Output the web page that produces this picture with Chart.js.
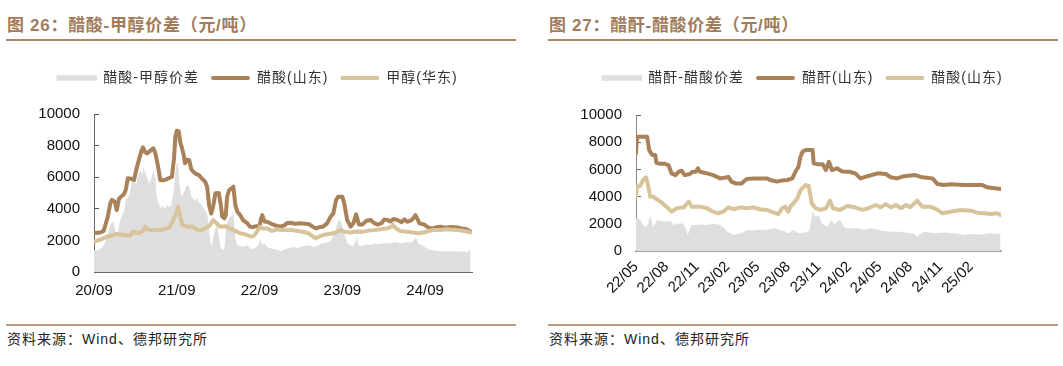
<!DOCTYPE html>
<html>
<head>
<meta charset="utf-8">
<script src="https://cdn.jsdelivr.net/npm/chart.js@4.4.1/dist/chart.umd.min.js"></script>
<style>
  html, body { margin: 0; padding: 0; background: #fff; }
  body { width: 1063px; height: 366px; position: relative; overflow: hidden; }
  .title { position: absolute; top: 11px; font: bold 17px "Liberation Sans", "Noto Sans CJK SC", sans-serif; letter-spacing: 0.7px; color: #a27c5a; white-space: nowrap; }
  .rule { position: absolute; height: 2px; background: #a98767; }
  .rule2 { position: absolute; height: 2px; background: #b89a80; }
  .source { position: absolute; top: 328px; font: 14px "Liberation Sans", "Noto Sans CJK SC", sans-serif; letter-spacing: 1px; color: #222; white-space: nowrap; }
  canvas { position: absolute; }
</style>
</head>
<body>
<div class="title" style="left:7px;">图 26：醋酸-甲醇价差（元/吨）</div>
<div class="rule" style="left:6px; width:510px; top:39px;"></div>
<div class="title" style="left:549px;">图 27：醋酐-醋酸价差（元/吨）</div>
<div class="rule" style="left:548px; width:510px; top:39px;"></div>
<canvas id="c1" width="515" height="250" style="left:0px; top:59px;"></canvas>
<canvas id="c2" width="515" height="250" style="left:545px; top:59px;"></canvas>
<div class="rule2" style="left:6px; width:510px; top:324px;"></div>
<div class="rule2" style="left:548px; width:510px; top:324px;"></div>
<div class="source" style="left:7px;">资料来源：Wind、德邦研究所</div>
<div class="source" style="left:549px;">资料来源：Wind、德邦研究所</div>
<script>
// ---------- Chart 26 (x = months since 2020/09) ----------
const leftTicks = ['20/09','21/09','22/09','23/09','24/09'];
const leftSeriesNames = ['醋酸-甲醇价差','醋酸(山东)','甲醇(华东)'];

const acidM = [0,0.9,1.4,2.0,2.4,2.6,3.0,3.3,3.6,3.9,4.3,4.6,4.9,5.4,5.8,6.2,6.5,6.9,7.1,7.4,7.7,8.1,8.6,8.9,9.1,9.4,9.6,10.0,10.4,10.9,11.3,11.6,11.8,12.0,12.3,12.5,12.7,13.0,13.2,13.5,13.8,14.1,14.4,14.8,15.2,15.7,16.1,16.4,16.7,17.0,17.3,17.6,17.9,18.1,18.4,18.6,18.9,19.1,19.3,19.6,20.0,20.2,20.5,20.8,21.2,21.6,22.2,22.6,23.1,23.5,24.0,24.2,24.4,24.7,25.1,25.7,26.3,27.0,27.6,28.0,28.4,29.2,29.9,30.6,31.1,31.6,32.2,32.8,33.2,33.8,34.3,34.7,35.1,35.4,36.0,36.3,36.7,37.2,37.6,38.0,38.4,38.9,39.5,40.1,40.6,41.1,41.7,42.1,42.5,43.0,43.4,44.0,44.6,45.0,45.4,45.9,46.3,46.6,46.9,47.2,47.9,48.5,49.1,49.6,50.2,50.9,51.7,52.5,53.3,54.0,54.6];
const acidV = [2470,2500,2600,3500,4400,4560,4450,3920,4600,4770,4900,5190,5930,5900,5820,6600,7090,7700,7890,7600,7510,7650,7830,7500,7090,6400,5820,5800,5850,5950,6030,7200,8560,8940,8900,8200,7930,7400,6880,7100,7090,6500,6350,6200,6140,5900,5720,5400,4200,3700,4200,4980,5000,4980,4200,3500,3400,3600,4770,5190,5300,5400,4200,3800,3600,3290,3100,2870,2850,2900,2900,3350,3600,3200,3180,3050,2950,2870,2950,3100,3120,3050,3080,3050,3040,2900,2760,2850,2870,3080,3500,3710,4560,4770,4770,4300,3300,2870,3080,3650,3000,3000,3250,3290,3100,3000,3100,3330,3300,3200,3350,3290,3150,3330,3180,3250,3400,3600,3350,3080,3000,2800,2760,2830,2870,2800,2850,2830,2750,2700,2550];

const methM = [0,0.9,1.3,1.7,2.3,2.9,3.3,3.8,4.2,4.8,5.2,5.7,6.1,6.7,7.1,7.4,7.7,8.1,8.9,9.6,10.0,10.6,11.0,11.5,11.9,12.2,12.5,12.8,13.4,13.9,14.4,14.8,15.4,16.0,16.4,16.8,17.3,17.7,18.3,19.0,19.7,20.5,21.2,21.8,22.2,22.8,23.2,23.7,24.1,24.5,25.1,25.8,26.6,27.3,28.0,28.7,29.5,30.3,31.1,31.6,32.1,32.7,33.2,34.0,34.7,35.3,35.8,36.3,37.2,38.0,38.9,39.8,40.6,41.5,42.4,43.1,43.4,43.8,44.4,45.3,46.2,47.0,47.8,48.5,49.2,50.2,51.1,52.0,52.8,53.7,54.6];
const methV = [1920,2050,2130,2200,2280,2350,2410,2380,2340,2340,2300,2550,2480,2490,2600,2870,2700,2660,2650,2660,2700,2760,2850,3290,3700,4130,3500,2980,2870,2860,2870,2700,2640,2750,2830,2950,3290,3100,2870,2900,2760,2600,2450,2400,2340,2230,2300,2600,2870,2750,2760,2600,2700,2650,2660,2660,2600,2550,2450,2300,2130,2250,2340,2400,2450,2550,2660,2550,2500,2560,2550,2620,2650,2700,2750,2850,2980,2750,2600,2550,2500,2450,2500,2600,2660,2660,2700,2680,2650,2600,2500];

const spreadM = [0,0.4,0.9,1.3,1.6,1.9,2.2,2.5,2.8,3.0,3.3,3.5,3.8,4.1,4.4,4.6,4.9,5.2,5.5,5.8,6.1,6.4,6.7,7.0,7.2,7.4,7.7,8.0,8.3,8.6,8.9,9.1,9.4,9.7,10.0,10.3,10.6,10.9,11.2,11.5,11.8,12.0,12.2,12.4,12.6,12.9,13.2,13.5,13.8,14.1,14.4,14.7,14.9,15.2,15.5,15.8,16.1,16.4,16.7,16.9,17.1,17.4,17.8,18.0,18.3,18.6,18.9,19.2,19.6,20.0,20.2,20.5,20.8,21.2,21.6,22.2,22.6,23.1,23.5,23.8,24.1,24.4,24.7,25.1,25.5,26.1,26.7,27.1,27.7,28.3,28.9,29.5,30.0,30.6,31.2,31.8,32.4,32.9,33.5,34.1,34.5,35.0,35.3,35.6,35.8,36.1,36.4,36.7,37.2,37.6,37.9,38.1,38.3,38.9,39.5,40.1,40.6,41.2,41.8,42.4,43.0,43.5,44.1,44.7,45.3,45.9,46.3,46.7,47.0,47.6,48.2,48.8,49.5,50.2,51.1,52.0,52.8,53.6,54.1,54.4,54.6];
const spreadV = [1390,1350,1450,1600,1900,2300,2700,3100,3200,2800,2200,2600,3300,3600,3900,4600,4700,5000,5800,6000,5500,6100,6400,6200,6600,6300,6000,5600,5900,6400,5900,4800,4300,4000,4200,4000,4250,4100,4200,5000,6300,6900,6800,5600,4800,4900,5200,5500,5400,4800,4600,4500,4700,4400,4300,4100,3900,3700,2600,1800,1700,2400,3100,2600,1600,1400,1500,3000,3400,3600,3700,2100,1700,1650,1600,1700,1500,1450,1550,1700,2050,1700,1800,1600,1500,1450,1400,1300,1450,1500,1600,1500,1600,1650,1700,1600,1650,1800,1850,1900,2100,2600,3100,3300,3250,2700,2300,1800,1700,1650,1900,2250,1700,1650,1750,1700,1800,1750,1800,1850,1800,1900,1850,1800,1900,1850,2000,2200,1800,1700,1500,1390,1350,1320,1300,1320,1290,1300,1250,1380,1350];

// ---------- Chart 27 (x = months since 2022/05) ----------
const rightTicks = ['22/05','22/08','22/11','23/02','23/05','23/08','23/11','24/02','24/05','24/08','24/11','25/02'];
const rightSeriesNames = ['醋酐-醋酸价差','醋酐(山东)','醋酸(山东)'];

const anhM = [0,0.1,0.6,1.1,1.3,1.6,1.9,2.0,2.4,2.8,3.2,3.5,3.9,4.2,4.5,4.8,5.3,5.6,5.9,6.1,6.3,7.0,7.6,8.3,9.0,9.1,9.4,9.8,10.4,10.9,11.6,12.2,12.9,13.2,13.9,14.2,14.9,15.4,15.7,16.0,16.2,16.4,16.7,17.4,17.5,17.9,18.4,18.7,19.0,19.3,19.8,20.3,21.0,21.6,22.1,22.8,23.8,24.6,25.1,25.7,26.4,27.5,28.2,29.2,29.7,30.3,31.0,32.3,34.1,34.6,35.9];
const anhV = [7180,8400,8400,8400,7420,7060,7060,6490,6420,6420,6320,5710,5580,5830,5900,5580,5660,5830,5830,6080,5830,5710,5580,5340,5420,5460,5100,4970,4970,5290,5340,5340,5340,5220,5100,5160,5220,5340,5830,6200,6930,7300,7420,7420,6440,6370,6370,5950,6560,5950,6080,5850,5830,5710,5340,5500,5710,5660,5420,5340,5500,5580,5420,5340,4920,4850,4900,4850,4850,4680,4560];

const hacM = [0,0.1,0.4,0.7,1.0,1.2,1.4,1.7,2.4,3.0,3.5,4.0,4.7,5.2,5.5,6.3,7.0,7.6,8.1,8.6,9.1,9.6,10.3,10.9,11.6,12.2,12.9,13.6,14.0,14.4,14.7,15.0,15.2,15.5,15.9,16.2,16.7,17.0,17.2,17.3,17.7,18.2,18.7,19.1,19.4,20.1,20.8,21.6,22.3,22.9,23.6,24.1,24.6,25.1,25.6,26.1,26.6,27.0,27.7,28.2,29.0,29.7,30.2,31.0,32.0,33.0,33.6,34.3,34.9,35.6,35.9];
const hacV = [3990,4730,4780,5220,5420,4800,3990,3990,3630,3260,2890,3140,3210,3630,3260,3260,3140,2890,2770,2890,3210,3070,3210,3140,3210,3070,3020,2820,2720,3140,3260,2890,3260,3500,3870,4480,4850,4780,3990,3500,3140,3020,3140,3700,3140,3020,3310,3210,3020,3140,3380,3210,3450,3210,3380,3140,3380,3210,3700,3260,3260,3020,2770,2890,3020,2960,2820,2770,2720,2770,2650];

const diffM = [0,0.4,0.7,0.9,1.1,1.2,1.4,1.6,1.7,2.1,2.4,2.9,3.4,3.7,4.1,4.6,4.9,5.1,5.3,5.5,6.0,6.5,7.0,7.6,8.3,8.7,9.0,9.3,9.6,10.0,10.3,10.7,11.0,11.5,12.0,12.4,12.9,13.6,14.0,14.2,14.6,14.9,15.2,15.5,16.0,16.4,16.9,17.1,17.4,17.5,17.7,18.0,18.3,18.8,19.1,19.3,19.5,19.8,20.1,20.4,20.6,21.1,21.8,22.4,23.1,24.1,25.1,26.1,27.0,27.4,27.7,28.0,28.4,29.4,30.4,31.3,32.3,33.0,33.7,34.5,34.9,35.4,35.9];
const diffV = [2400,2350,1900,1790,1900,2000,2650,2000,1790,2280,2200,2150,2200,1910,2030,2030,1700,1180,1600,1910,1910,1950,1910,2030,1910,1700,1420,1300,1180,1250,1300,1450,1540,1500,1540,1560,1540,1670,1600,1540,1450,1300,1400,1540,1300,1350,1420,1500,3010,2700,2520,2640,2030,1790,2100,2280,1950,2160,2280,1900,1670,1670,1670,1550,1670,1500,1420,1420,1300,1250,1060,1250,1420,1300,1360,1300,1180,1250,1220,1250,1300,1250,1300];

// ---------- styling ----------
const GRAY = '#dedede', BROWN = '#a9825a', TAN = '#d8c49b';
const TICK_FONT = { family: '"Liberation Sans", Arial, sans-serif', size: 15 };

function pts(xs, ys) { return xs.map((x, i) => ({ x: x, y: ys[i] })); }

const legendTune = {
  id: 'legendTune',
  afterInit(chart, args, opts) {
    const lg = chart.legend;
    if (!lg) return;
    const fit = lg.fit.bind(lg);
    lg.fit = function () {
      this.ctx.save();
      this.ctx.letterSpacing = opts.spacing || '0px';
      fit();
      this.ctx.restore();
      if (opts.height) this.height = opts.height;
    };
    const draw = lg.draw.bind(lg);
    lg.draw = function () {
      this.ctx.save();
      this.ctx.letterSpacing = opts.spacing || '0px';
      draw();
      this.ctx.restore();
    };
  }
};

function build(canvasId, cfg) {
  const datasets = [
    { label: cfg.names[0], data: pts(cfg.m0, cfg.v0), fill: 'origin', backgroundColor: GRAY, borderColor: GRAY, borderWidth: 0, pointRadius: 0, order: 3, legendColor: GRAY },
    { label: cfg.names[1], data: pts(cfg.m1, cfg.v1), fill: false, borderColor: BROWN, borderWidth: 4, pointRadius: 0, borderJoinStyle: 'round', borderCapStyle: 'round', order: 2, legendColor: BROWN },
    { label: cfg.names[2], data: pts(cfg.m2, cfg.v2), fill: false, borderColor: TAN, borderWidth: 4, pointRadius: 0, borderJoinStyle: 'round', borderCapStyle: 'round', order: 1, legendColor: TAN }
  ];
  return new Chart(document.getElementById(canvasId), {
    type: 'line',
    data: { datasets },
    plugins: [legendTune],
    options: {
      responsive: false,
      animation: false,
      layout: { padding: 0 },
      plugins: {
        tooltip: { enabled: false },
        legendTune: { height: cfg.legendH, spacing: '1px' },
        legend: {
          position: 'top',
          labels: {
            boxWidth: 39, boxHeight: 4, padding: 12, color: '#333',
            font: { family: '"Liberation Sans", "Noto Sans CJK SC", sans-serif', size: 14 },
            generateLabels: (chart) => chart.data.datasets.map((ds, i) => ({
              text: ds.label, fillStyle: ds.legendColor, strokeStyle: ds.legendColor,
              lineWidth: i === 0 ? 1.5 : 0, borderRadius: i === 0 ? 0 : 2,
              datasetIndex: i, hidden: false, fontColor: '#333'
            }))
          }
        }
      },
      scales: {
        x: {
          type: 'linear', position: 'bottom', min: 0, max: cfg.xMax, z: 1,
          grid: { drawOnChartArea: false, drawTicks: true, tickLength: -5, color: cfg.tickColor, lineWidth: 1 },
          border: { display: true, color: cfg.xAxisColor, width: cfg.xAxisWidth },
          ticks: {
            autoSkip: false, font: TICK_FONT, color: '#111',
            padding: cfg.xPad, maxRotation: cfg.rot, minRotation: cfg.rot,
            callback: (v) => cfg.ticks[Math.round(v / cfg.step)]
          },
          afterBuildTicks: (s) => { s.ticks = cfg.ticks.map((t, i) => ({ value: i * cfg.step })); },
          afterFit: (s) => { s.height = cfg.xH; }
        },
        y: {
          type: 'linear', position: 'left', min: 0, max: 10000, z: 1,
          grid: { drawOnChartArea: false, drawTicks: true, tickLength: -5, color: cfg.tickColor, lineWidth: 1 },
          border: { display: true, color: cfg.yAxisColor, width: 1 },
          ticks: { stepSize: 2000, font: TICK_FONT, color: '#111', padding: 19, callback: (v) => String(v) },
          afterFit: (s) => { s.width = cfg.yW; }
        },
        y2: {
          type: 'linear', position: 'right', min: 0, max: 10000,
          grid: { display: false }, border: { display: false }, ticks: { display: false },
          afterFit: (s) => { s.width = cfg.y2W; }
        }
      }
    }
  });
}

build('c1', {
  names: leftSeriesNames, m0: spreadM, v0: spreadV, m1: acidM, v1: acidV, m2: methM, v2: methV,
  ticks: leftTicks, step: 12, xMax: 54.8, rot: 0, xPad: 15, xH: 37, yW: 94, y2W: 43, legendH: 55,
  tickColor: '#555', xAxisColor: '#666', xAxisWidth: 1, yAxisColor: '#666'
});
build('c2', {
  names: rightSeriesNames, m0: diffM, v0: diffV, m1: anhM, v1: anhV, m2: hacM, v2: hacV,
  ticks: rightTicks, step: 3, xMax: 35.95, rot: 45, xPad: 12, xH: 58, yW: 91, y2W: 59, legendH: 56,
  tickColor: '#666', xAxisColor: '#a6a6a6', xAxisWidth: 2, yAxisColor: '#888'
});
</script>
</body>
</html>
